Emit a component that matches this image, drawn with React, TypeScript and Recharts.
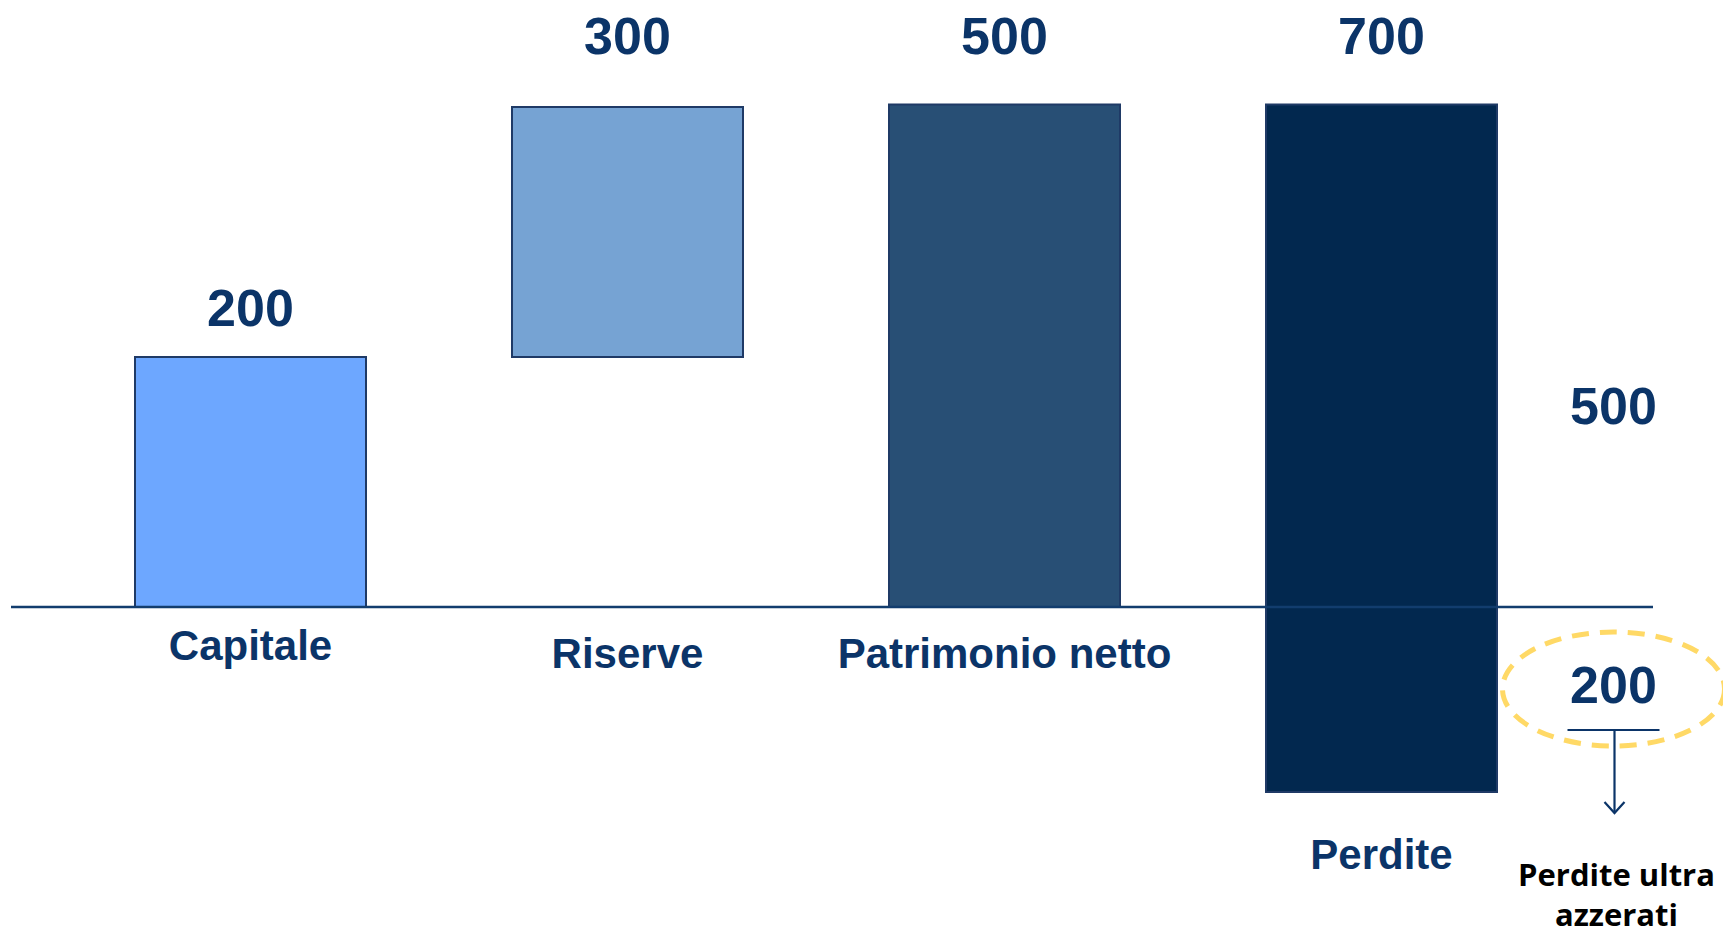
import { BarChart, Bar, Cell, XAxis, YAxis, ReferenceLine, ReferenceDot } from "recharts";

// categories and the amounts written above each bar
const categories = ["Capitale", "Riserve", "Patrimonio netto", "Perdite"];
const amounts = [200, 300, 500, 700];
// bar extents as drawn in the diagram (schematic scale, not proportional to amounts)
const barLow = [0, 200, 0, -148];
const barHigh = [200, 400, 402, 402];
// split of the losses shown on the right
const lossCovered = 500;
const lossExcess = 200;
const excessNote = ["Perdite ultra", "azzerati"];

const fills = ["#6da7ff", "#76a3d3", "#284f75", "#02284f"];
const navy = "#0b3468";
const border = "#1f3a66";
const font = "'Liberation Sans', Arial, sans-serif";
const valueGap = [31, 53, 51, 51];
const nameGap = [53, 61, 61, 77];

const data = categories.map((name, i) => ({
  name,
  range: [barLow[i], barHigh[i]],
}));

function LossNote({ cx, cy }: { cx: number; cy: number }) {
  const x = cx + 232;
  return (
    <g>
      <ellipse cx={x} cy={cy + 82} rx={111} ry={57} fill="none" stroke="#ffd966" strokeWidth={5} strokeDasharray="17 11" />
      <text x={x} y={cy - 183} textAnchor="middle" fontFamily={font} fontWeight="bold" fontSize={52} fill={navy}>
        {lossCovered}
      </text>
      <text x={x} y={cy + 96} textAnchor="middle" fontFamily={font} fontWeight="bold" fontSize={52} fill={navy}>
        {lossExcess}
      </text>
      <line x1={x - 46} x2={x + 46} y1={cy + 123} y2={cy + 123} stroke={navy} strokeWidth={2} />
      <line x1={x + 1} x2={x + 1} y1={cy + 123} y2={cy + 206} stroke={navy} strokeWidth={2.2} />
      <polyline points={`${x - 9},${cy + 195} ${x + 1},${cy + 206} ${x + 11},${cy + 195}`} fill="none" stroke={navy} strokeWidth={2.2} />
      {excessNote.map((t, i) => (
        <text key={t} x={x + 3} y={cy + 279 + i * 40} textAnchor="middle" fontFamily="'Open Sans', sans-serif" fontWeight="bold" fontSize={31} fill="#000">
          {t}
        </text>
      ))}
    </g>
  );
}

export default function App() {
  return (
    <div style={{ width: 1723, height: 933, background: "#fff" }}>
      <style>{`body{margin:0}`}</style>
      <BarChart width={1723} height={933} data={data} margin={{ top: 7, right: 153, bottom: 1, left: 62 }} barSize={231}>
        <XAxis dataKey="name" hide />
        <YAxis type="number" domain={[-260, 480]} hide />
        <Bar dataKey="range" stroke={border} strokeWidth={2} isAnimationActive={false}>
          {data.map((d, i) => (
            <Cell key={d.name} fill={fills[i]} />
          ))}
        </Bar>
        <ReferenceLine
          y={0}
          shape={(p: any) => (
            <line x1={p.x1 - 51} x2={p.x2 + 83} y1={p.y1} y2={p.y2} stroke="#123d6e" strokeWidth={2.5} />
          )}
        />
        {categories.map((c, i) => (
          <ReferenceDot
            key={"v" + c}
            x={c}
            y={barHigh[i]}
            r={0}
            shape={(p: any) => (
              <text x={p.cx} y={p.cy - valueGap[i]} textAnchor="middle" fontFamily={font} fontWeight="bold" fontSize={52} fill={navy}>
                {amounts[i]}
              </text>
            )}
          />
        ))}
        {categories.map((c, i) => (
          <ReferenceDot
            key={"n" + c}
            x={c}
            y={Math.min(barLow[i], 0)}
            r={0}
            shape={(p: any) => (
              <text x={p.cx} y={p.cy + nameGap[i]} textAnchor="middle" fontFamily={font} fontWeight="bold" fontSize={42} fill={navy}>
                {c}
              </text>
            )}
          />
        ))}
        <ReferenceDot x="Perdite" y={0} r={0} shape={(p: any) => <LossNote cx={p.cx} cy={p.cy} />} />
      </BarChart>
    </div>
  );
}
